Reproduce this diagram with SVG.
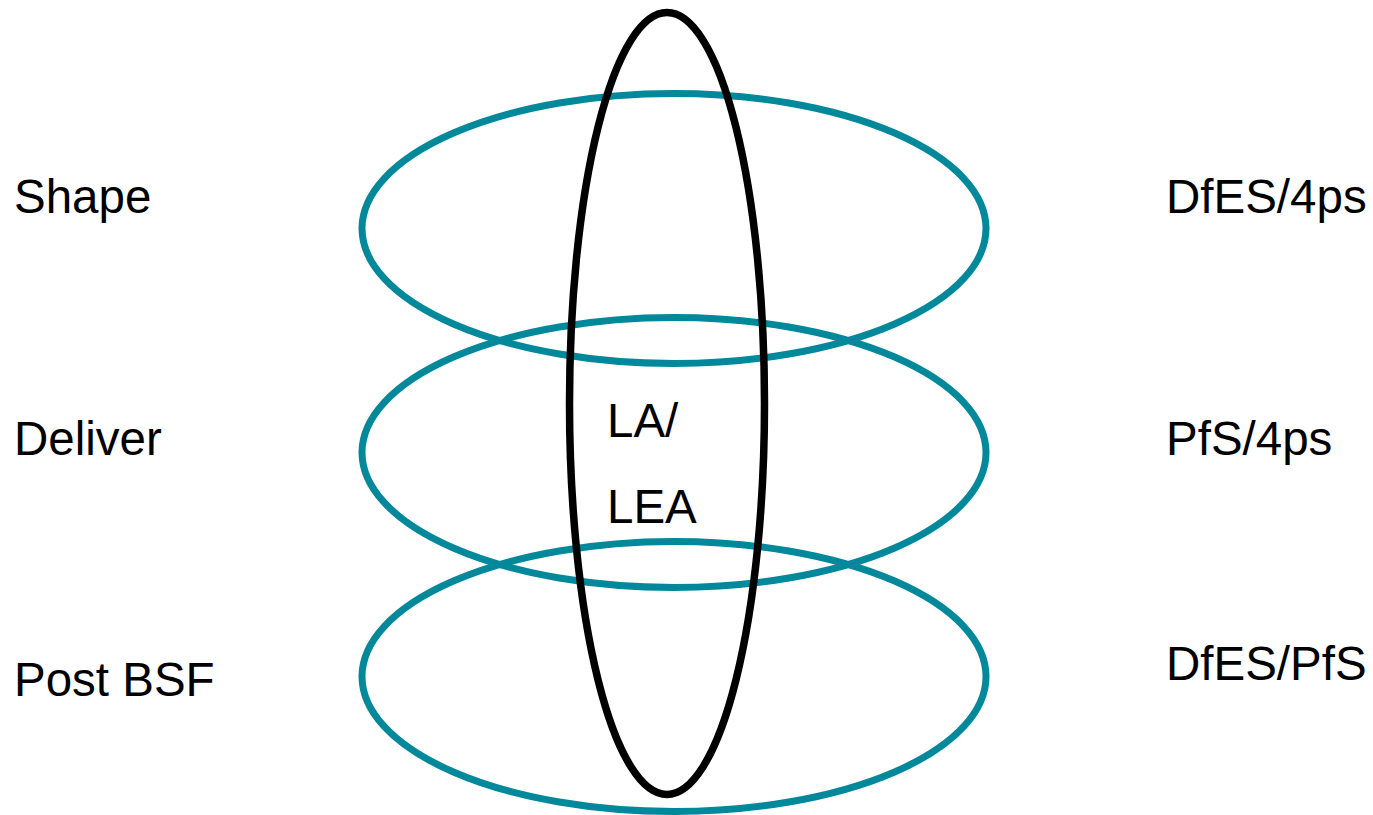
<svg xmlns="http://www.w3.org/2000/svg" width="1373" height="815" viewBox="0 0 1373 815">
<style>
.ring{fill:none;stroke:#01889A;stroke-width:7}
.core{fill:none;stroke:#000;stroke-width:7.5}
text{font-family:"Liberation Sans",Arial,sans-serif;font-size:47.5px;fill:#000}
</style>
<rect width="1373" height="815" fill="#fff"/>
<g id="ring-shape"><ellipse class="ring" cx="674" cy="228.5" rx="312" ry="135"/></g>
<g id="ring-deliver"><ellipse class="ring" cx="674" cy="452.5" rx="312" ry="135"/></g>
<g id="ring-postbsf"><ellipse class="ring" cx="674" cy="676.5" rx="312" ry="135"/></g>
<g id="la-lea"><ellipse class="core" cx="667" cy="403.5" rx="97.5" ry="391"/>
<text x="607" y="437">LA/</text>
<text x="607" y="523">LEA</text></g>
<g id="label-shape"><text x="14" y="213">Shape</text></g>
<g id="label-deliver"><text x="14" y="455">Deliver</text></g>
<g id="label-postbsf"><text x="14" y="696">Post BSF</text></g>
<g id="label-dfes4ps"><text x="1166" y="213">DfES/4ps</text></g>
<g id="label-pfs4ps"><text x="1166" y="455">PfS/4ps</text></g>
<g id="label-dfespfs"><text x="1166" y="680">DfES/PfS</text></g>
<g id="connectors"></g>
</svg>
